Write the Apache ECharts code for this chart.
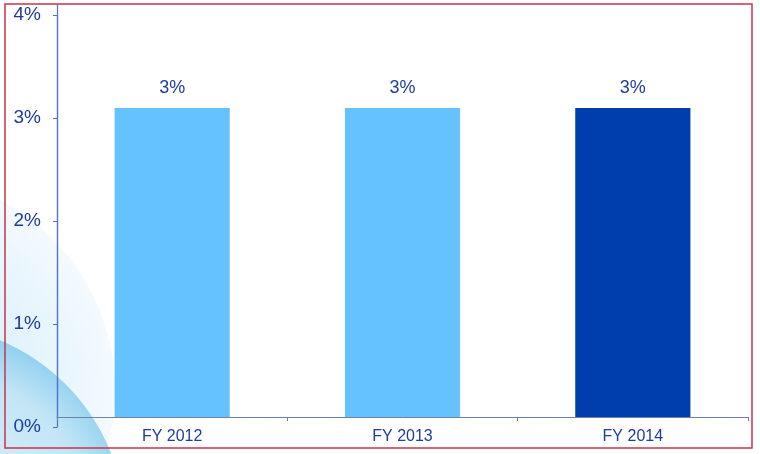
<!DOCTYPE html>
<html>
<head>
<meta charset="utf-8">
<script src="https://cdn.jsdelivr.net/npm/echarts@6/dist/echarts.min.js"></script>
<style>
  html, body { margin: 0; padding: 0; background: #fff; }
  #chart { width: 760px; height: 454px; }
</style>
</head>
<body>
<div id="chart"></div>
<script>
var categories = ['FY 2012', 'FY 2013', 'FY 2014'];
var values = [3, 3, 3];
var barColors = ['#66c2ff', '#66c2ff', '#003eae'];
var yTicks = [0, 1, 2, 3, 4];

var textColor = '#1f3c9e';
var font = '"Liberation Sans", Arial, Helvetica, sans-serif';

var chart = echarts.init(document.getElementById('chart'));

chart.setOption({
    animation: false,
    graphic: [
        {
            type: 'circle',
            z: -20,
            silent: true,
            shape: { cx: -100, cy: 390, r: 215 },
            style: {
                fill: {
                    type: 'radial', x: 0.5, y: 0.5, r: 0.5,
                    colorStops: [
                        { offset: 0, color: '#d0eaf8' },
                        { offset: 0.8, color: '#eaf6fd' },
                        { offset: 1, color: '#f4fafe' }
                    ]
                }
            }
        },
        {
            type: 'circle',
            z: -19,
            silent: true,
            shape: { cx: -80, cy: 530, r: 206 },
            style: {
                fill: {
                    type: 'radial', x: 0.55, y: 0.5, r: 0.5,
                    colorStops: [
                        { offset: 0, color: '#e6f5fc' },
                        { offset: 0.75, color: '#c2e5f6' },
                        { offset: 1, color: '#88ccee' }
                    ]
                }
            }
        },
        {
            type: 'rect',
            z: 100,
            silent: true,
            shape: { x: 5, y: 4, width: 747, height: 444 },
            style: { fill: 'none', stroke: '#c5354c', lineWidth: 1.5 }
        }
    ],
    grid: [
        // value labels grid (0% sits below the category axis)
        { left: 57, right: 12, top: 15, bottom: 27 },
        // bars grid
        { left: 57, right: 12, top: 5, bottom: 37 }
    ],
    xAxis: [
        { gridIndex: 0, type: 'category', data: categories, show: false },
        {
            gridIndex: 1,
            type: 'category',
            data: categories,
            axisLine: { lineStyle: { color: '#6f82a6', width: 1 } },
            axisTick: { show: true, length: 4, lineStyle: { color: '#6f82a6' } },
            axisLabel: { color: textColor, fontSize: 16, fontFamily: font, margin: 12 }
        }
    ],
    yAxis: [
        {
            gridIndex: 0,
            type: 'value',
            min: yTicks[0],
            max: yTicks[yTicks.length - 1],
            interval: 1,
            splitLine: { show: false },
            axisLine: { show: true, lineStyle: { color: '#4e70d2', width: 1.2 } },
            axisTick: { show: true, length: 4, lineStyle: { color: '#4e70d2' } },
            axisLabel: {
                color: textColor,
                fontSize: 19,
                fontFamily: font,
                margin: 16,
                formatter: '{value}%'
            }
        },
        {
            gridIndex: 1,
            type: 'value',
            min: 0,
            max: 4,
            splitLine: { show: false },
            axisLine: { show: true, lineStyle: { color: '#4e70d2', width: 1.2 } },
            axisTick: { show: false },
            axisLabel: { show: false }
        }
    ],
    series: [
        {
            type: 'bar',
            xAxisIndex: 1,
            yAxisIndex: 1,
            barWidth: '50%',
            data: values.map(function (v, i) {
                return { value: v, itemStyle: { color: barColors[i] } };
            }),
            label: {
                show: true,
                position: 'top',
                distance: 11,
                formatter: '{c}%',
                color: textColor,
                fontSize: 18,
                fontFamily: font
            }
        }
    ]
});
</script>
</body>
</html>
